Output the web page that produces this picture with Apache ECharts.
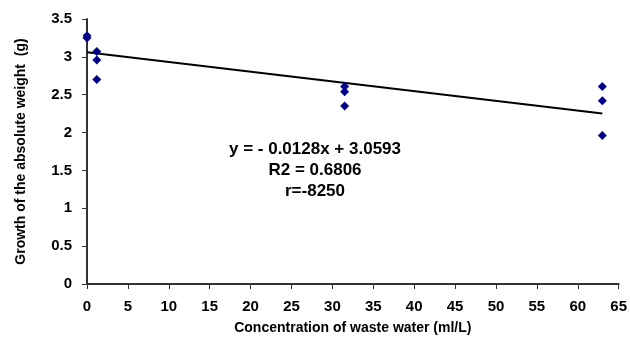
<!DOCTYPE html>
<html>
<head>
<meta charset="utf-8">
<script src="https://cdn.jsdelivr.net/npm/echarts@6/dist/echarts.min.js"></script>
<style>
  html, body { margin: 0; padding: 0; background: #fff; }
  #chart { width: 630px; height: 340px; }
</style>
</head>
<body>
<div id="chart"></div>
<script>
// measured points: [concentration, growth]
const observations = [
    [0, 3.28], [0, 3.25],
    [1.2, 3.07], [1.2, 2.96], [1.2, 2.70],
    [31.5, 2.61], [31.5, 2.54], [31.5, 2.35],
    [63, 2.61], [63, 2.42], [63, 1.96]
];

// fitted line end points, y = -0.0128x + 3.0593
const trendLine = [[0, 3.0593], [63, 2.2529]];

const equationText = ["y = - 0.0128x + 3.0593", "R2 = 0.6806", "r=-8250"];

const xTicks = { min: 0, max: 65, interval: 5 };
const yTicks = { min: 0, max: 3.5, interval: 0.5 };

const chart = echarts.init(document.getElementById("chart"));

const labelFont = { color: "#000", fontWeight: "bold", fontFamily: "Arial, Liberation Sans, sans-serif" };

chart.setOption({
    backgroundColor: "#fff",
    animation: false,
    grid: { left: 87, right: 10, top: 19, bottom: 55 },
    xAxis: {
        type: "value",
        min: xTicks.min, max: xTicks.max, interval: xTicks.interval,
        name: "Concentration of waste water (ml/L)",
        nameLocation: "middle",
        nameGap: 37,
        nameTextStyle: Object.assign({ fontSize: 14 }, labelFont),
        axisLine: { lineStyle: { color: "#333", width: 2 } },
        axisTick: { lineStyle: { color: "#333" }, length: 5 },
        axisLabel: Object.assign({ fontSize: 15, margin: 15 }, labelFont),
        splitLine: { show: false }
    },
    yAxis: {
        type: "value",
        min: yTicks.min, max: yTicks.max, interval: yTicks.interval,
        name: "Growth of the absolute weight  (g)",
        nameLocation: "middle",
        nameGap: 59,
        nameTextStyle: Object.assign({ fontSize: 14 }, labelFont),
        axisLine: { show: true, lineStyle: { color: "#333", width: 2 } },
        axisTick: { show: true, lineStyle: { color: "#333" }, length: 5 },
        axisLabel: Object.assign({ fontSize: 15, margin: 15 }, labelFont),
        splitLine: { show: false }
    },
    graphic: equationText.map((t, i) => ({
        type: "text",
        left: "center",
        top: 141 + i * 21,
        style: {
            text: t,
            fill: "#000",
            font: "bold 17px Arial, Liberation Sans, sans-serif"
        },
        x: 8
    })),
    series: [
        {
            name: "trend",
            type: "line",
            data: trendLine,
            symbol: "none",
            lineStyle: { color: "#000", width: 2 },
            z: 2
        },
        {
            name: "growth",
            type: "scatter",
            data: observations,
            symbol: "diamond",
            symbolSize: 9,
            itemStyle: { color: "#00008b", opacity: 1 },
            z: 3
        }
    ]
});
</script>
</body>
</html>
